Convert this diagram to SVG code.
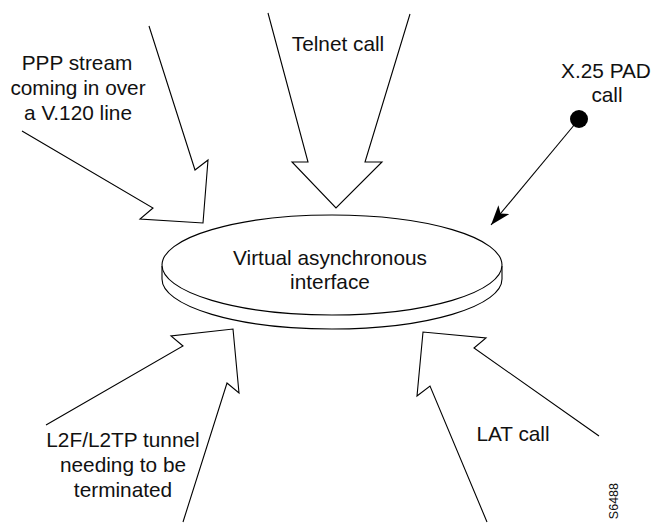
<svg xmlns="http://www.w3.org/2000/svg" width="652" height="525" viewBox="0 0 652 525">
<defs>
<style>
.t{font-family:"Liberation Sans",Arial,sans-serif;font-size:20.8px;fill:#111;text-anchor:middle}
.a{fill:none;stroke:#000;stroke-width:1.1;stroke-linejoin:miter}
.e{fill:#fff;stroke:#000;stroke-width:1.1}
</style>
<marker id="ah" viewBox="0 0 20 14" refX="20" refY="7" markerWidth="20" markerHeight="14" markerUnits="userSpaceOnUse" orient="auto">
<path d="M0,0 L20,7 L0,14 L5,7 Z" fill="#000"/>
</marker>
</defs>
<rect width="652" height="525" fill="#fff"/>
<g id="interface">
<path class="e" d="M162,266 L162,279 A170,50 0 0 0 502,279 L502,266"/>
<ellipse class="e" cx="332" cy="265" rx="170" ry="50"/>
<text class="t" x="330" y="265">Virtual asynchronous</text>
<text class="t" x="330" y="289">interface</text>
</g>
<g id="connectors">
<polyline id="ppp-arrow" class="a" points="149,26 195,170 208,160 203,223 140,219 153,208 22,131"/>
<polyline id="telnet-arrow" class="a" points="268,13 308,162 292,162 336,208 382,162 365,162 410,14"/>
<line id="x25-arrow" x1="575" y1="124" x2="491" y2="225" stroke="#000" stroke-width="1.1" marker-end="url(#ah)"/>
<polyline id="l2f-arrow" class="a" points="46,425 183,346 171,336 233,329 239,393 227,383 183,522"/>
<polyline id="lat-arrow" class="a" points="599,436 474,348 486,338 423,332 417,396 430,386 487,522"/>
</g>
<g id="ppp">
<text class="t" x="77" y="70">PPP stream</text>
<text class="t" x="78" y="95">coming in over</text>
<text class="t" x="78" y="120">a V.120 line</text>
</g>
<g id="telnet">
<text class="t" x="338" y="51">Telnet call</text>
</g>
<g id="x25">
<text class="t" x="606" y="78">X.25 PAD</text>
<text class="t" x="607" y="102">call</text>
<circle cx="579" cy="119" r="9" fill="#000"/>
</g>
<g id="l2f">
<text class="t" x="123" y="447">L2F/L2TP tunnel</text>
<text class="t" x="123" y="472">needing to be</text>
<text class="t" x="123" y="497">terminated</text>
</g>
<g id="lat">
<text class="t" x="513" y="441">LAT call</text>
</g>
<text transform="translate(618,483) rotate(-90)" font-family="Liberation Sans,Arial,sans-serif" font-size="12.5" fill="#111" text-anchor="end">S6488</text>
</svg>
